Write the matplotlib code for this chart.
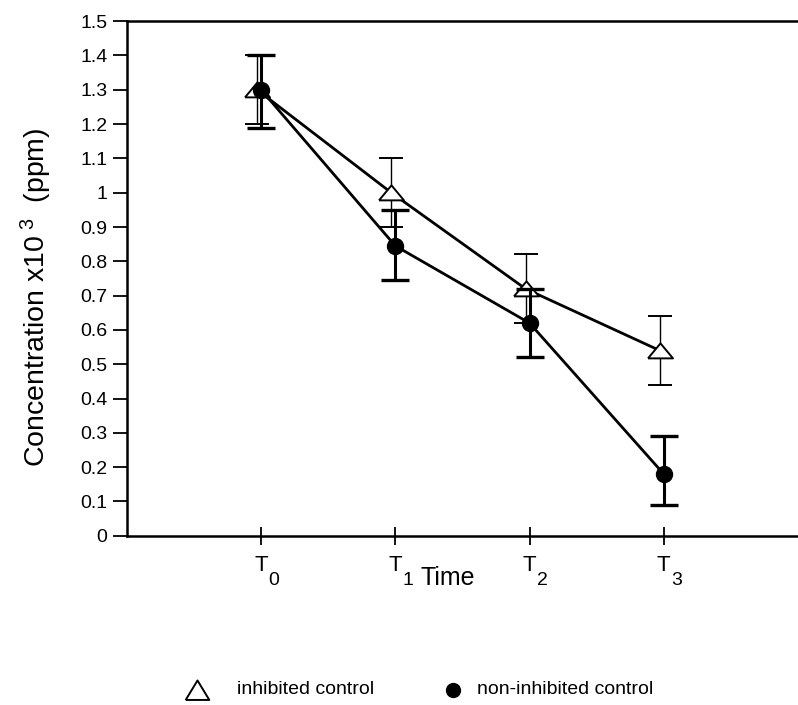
import numpy as np
import matplotlib.pyplot as plt
from matplotlib.lines import Line2D
from matplotlib.ticker import FormatStrFormatter

plt.rcParams['font.family'] = ['Liberation Sans', 'DejaVu Sans']
plt.rcParams['mathtext.fontset'] = 'custom'
plt.rcParams['mathtext.rm'] = 'Liberation Sans'
plt.rcParams['mathtext.it'] = 'Liberation Sans'

time_base = ['T', 'T', 'T', 'T']
time_sub = ['0', '1', '2', '3']
inhib = [1.30, 1.00, 0.72, 0.54]
inhib_err = [0.10, 0.10, 0.10, 0.10]
noninhib = [1.30, 0.845, 0.62, 0.18]
noninhib_lo = [0.11, 0.10, 0.10, 0.09]
noninhib_hi = [0.10, 0.105, 0.10, 0.11]

x = np.arange(len(time_base))

# flat open triangle like the original
tri = [(-1, -0.55), (1, -0.55), (0, 0.65), (-1, -0.55)]
tri_leg = [(-1, -0.8), (1, -0.8), (0, 0.85), (-1, -0.8)]

fig = plt.figure(figsize=(7.98, 7.05), dpi=100)
ax = fig.add_axes([0.159, 0.240, 0.841, 0.730])

ax.errorbar(x - 0.03, inhib, yerr=inhib_err, color='black', lw=2.0,
            elinewidth=1.0, capsize=8.5, capthick=1.0, marker=tri,
            markersize=18, markerfacecolor='white', markeredgecolor='black',
            markeredgewidth=1.4, zorder=3)
ax.errorbar(x, noninhib, yerr=[noninhib_lo, noninhib_hi], color='black', lw=2.0,
            elinewidth=2.2, capsize=10, capthick=2.4, marker='o',
            markersize=11.5, zorder=4)

ax.set_xlim(-1, 4)
ax.set_ylim(0, 1.5)
ax.set_yticks(np.arange(0, 1.51, 0.1))
ax.yaxis.set_major_formatter(FormatStrFormatter('%g'))
ax.set_xticks(x)
ax.set_xticklabels(time_base, fontsize=16)
ax.tick_params(axis='y', direction='out', length=10, width=1.3, labelsize=14, pad=4)
ax.tick_params(axis='x', direction='inout', length=13, width=1.3, pad=7)

# subscripts under the T tick labels, sitting low as in the original
for xi, s in zip(x, time_sub):
    ax.annotate(s, xy=(xi, 0), xycoords=('data', 'axes fraction'),
                xytext=(9, -38), textcoords='offset points', fontsize=14,
                ha='center', va='bottom')

for s in ['left', 'bottom', 'top']:
    ax.spines[s].set_linewidth(1.8)
ax.spines['right'].set_visible(False)

ax.set_xlabel('Time', fontsize=18)
ax.xaxis.set_label_coords(0.478, -0.058)
ax.xaxis.label.set_va('top')
ax.set_ylabel('Concentration x10$^{\\ 3}$  (ppm)', fontsize=20.5)
ax.yaxis.set_label_coords(-0.108, 0.464)

# legend row at the bottom
ly = 1 - 690 / 705
fig.add_artist(Line2D([197 / 798], [ly], transform=fig.transFigure,
                      ls='none', marker=tri_leg, markersize=17, markerfacecolor='white',
                      markeredgecolor='black', markeredgewidth=1.4))
fig.text(237 / 798, ly, 'inhibited control', fontsize=14, va='center', ha='left')
fig.add_artist(Line2D([453 / 798], [ly], transform=fig.transFigure,
                      ls='none', marker='o', markersize=10, color='black'))
fig.text(477 / 798, ly, 'non-inhibited control', fontsize=14, va='center', ha='left')

fig.savefig('out.png', dpi=100)
